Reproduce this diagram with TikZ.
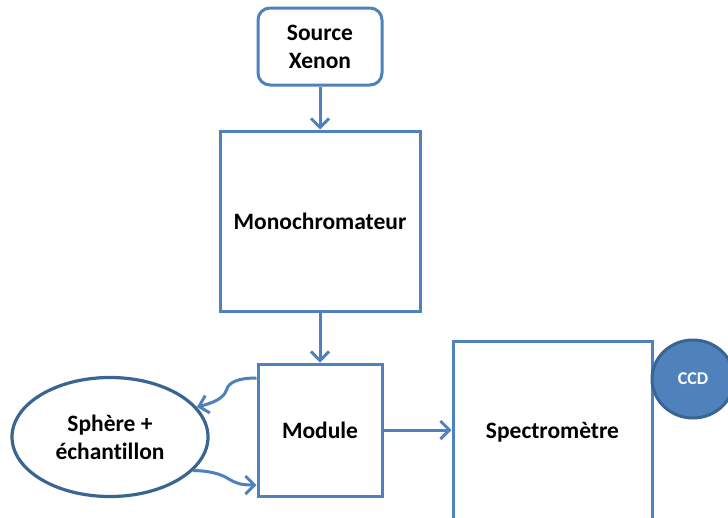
\documentclass[tikz,border=0pt]{standalone}
\usepackage{fontspec}
\setmainfont[Ligatures=NoCommon]{Carlito}
\usetikzlibrary{shapes.geometric,arrows.meta}
\definecolor{boxblue}{HTML}{4F81BD}
\definecolor{darkblue}{HTML}{3A6591}
\begin{document}
\begin{tikzpicture}[x=1pt,y=-1pt,
  box/.style={draw=boxblue,line width=3pt,fill=white,inner sep=0pt,
    font=\fontsize{23.5}{28}\selectfont\bfseries,align=center},
  conn/.style={draw=boxblue,line width=3pt,
    -{Straight Barb[length=9pt,width=18pt,line width=3pt]}}]
\clip (0,0) rectangle (728,517);
\fill[white] (0,0) rectangle (728,517);
\node[box,rounded corners=12pt,minimum width=124pt,minimum height=77pt] (src) at (320,46.5) {Source\\Xenon};
\node[box,minimum width=200pt,minimum height=180pt] (mono) at (320,221) {Monochromateur};
\node[box,minimum width=124pt,minimum height=132pt] (mod) at (320,430) {Module};
\node[box,minimum width=199pt,minimum height=182pt] (spec) at (552.5,432) {Spectromètre};
\node[box,ellipse,draw=darkblue,line width=3.2pt,minimum width=196pt,minimum height=119pt] (sph) at (110,437) {Sphère +\\échantillon};
\node[ellipse,draw=darkblue,line width=3pt,fill=boxblue,minimum width=82pt,minimum height=78pt,inner sep=0pt,
  text=white,font=\fontsize{18}{21}\selectfont\bfseries] (ccd) at (693,379) {CCD};
\draw[conn] (src.south) -- (mono.north);
\draw[conn] (mono.south) -- (mod.north);
\draw[conn] (mod.east) -- (spec.west |- mod.east);
\draw[conn] ([yshift=52pt]mod.west) .. controls +(-18,0) and +(2,-8) .. ++(-30,12)
  .. controls +(-3,9) and +(15,-4) .. (sph.19);
\draw[conn] (sph.-22) .. controls +(15,0) and +(-8,-5) .. ++(35,8)
  .. controls +(8,5) and +(-15,0) .. ([yshift=-55pt]mod.west);
\end{tikzpicture}
\end{document}
